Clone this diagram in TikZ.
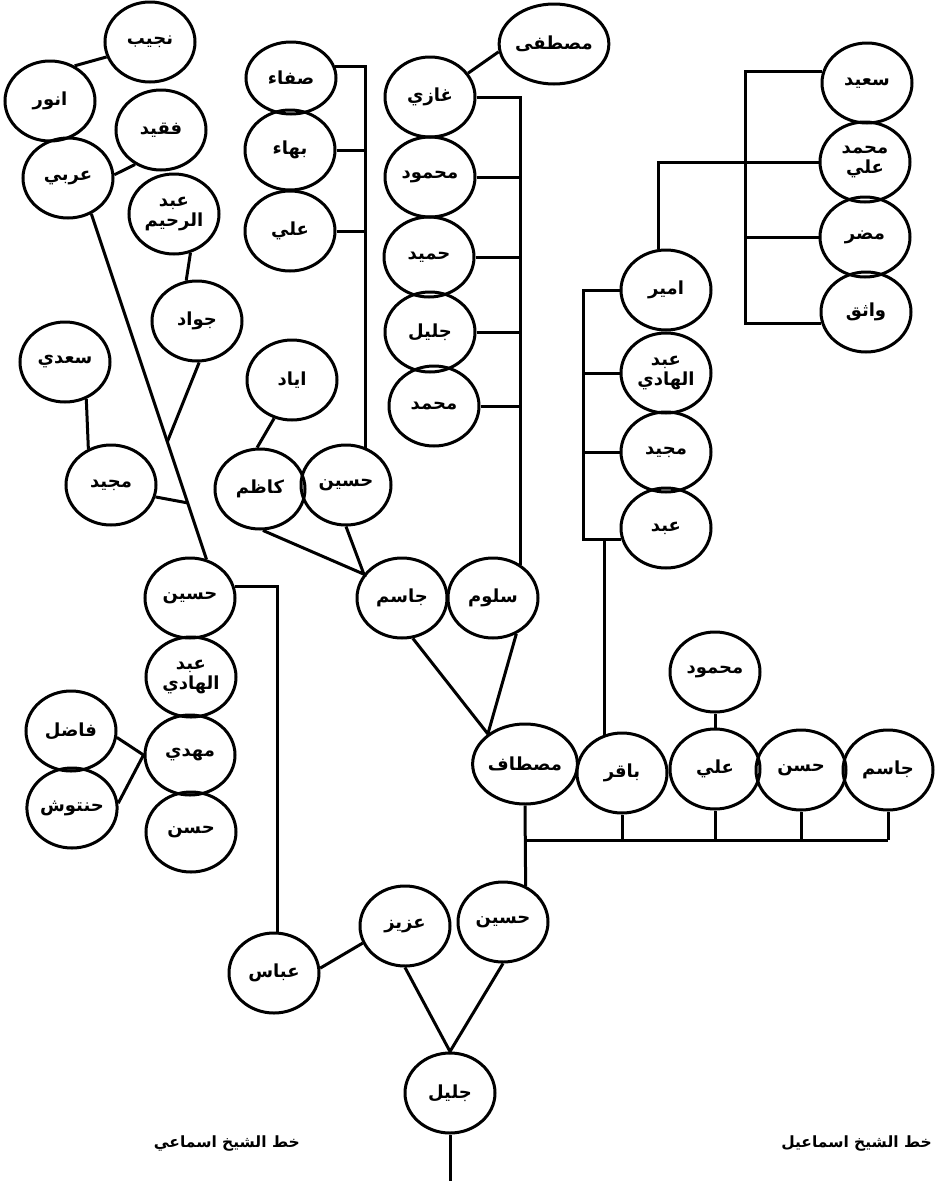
\documentclass[tikz,border=0pt]{standalone}
\usepackage{fontspec}
\usetikzlibrary{shapes.geometric,calc}
\TeXXeTstate=1
\newfontfamily\arabicfont[Script=Arabic,BoldFont={DejaVu Sans Bold}]{DejaVu Sans}
\newcommand\artxt[1]{\beginR #1\endR}
\begin{document}
\begin{tikzpicture}[x=1pt,y=-1pt,
  person/.style={ellipse, draw, line width=3pt, minimum width=90pt, minimum height=80pt,
    inner sep=0pt, align=center, font=\arabicfont\bfseries\fontsize{18}{20}\selectfont},
  link/.style={line width=3pt},
  caption/.style={font=\arabicfont\bfseries\fontsize{15.5}{18}\selectfont, inner sep=0pt}]
\useasboundingbox (0,0) rectangle (935,1181);
\begin{scope}
\clip (0,0) rectangle (935,1181);
% upper left group
\node[person] (najib) at (150,42) {\artxt{نجيب}};
\node[person] (anwar) at (50,101) {\artxt{انور}};
\node[person] (faqid) at (161,130) {\artxt{فقيد}};
\node[person] (arabi) at (68,178) {\artxt{عربي}};
\node[person] (abdr) at (174,214) {\artxt{عبد}\\\artxt{الرحيم}};
\node[person] (jawad) at (197,321) {\artxt{جواد}};
\node[person] (saadi) at (65,362) {\artxt{سعدي}};
\node[person] (majidL) at (111,485) {\artxt{مجيد}};
\node[person] (husL) at (190,598) {\artxt{حسين}};
\node[person] (abdhL) at (191,677) {\artxt{عبد}\\\artxt{الهادي}};
\node[person] (mahdi) at (190,755) {\artxt{مهدي}};
\node[person] (hasanL) at (191,832) {\artxt{حسن}};
\node[person] (fadil) at (71,731) {\artxt{فاضل}};
\node[person] (hantush) at (72,808) {\artxt{حنتوش}};
% centre column groups
\node[person, minimum height=72pt] (safa) at (291,78) {\artxt{صفاء}};
\node[person] (baha) at (290,150) {\artxt{بهاء}};
\node[person] (aliU) at (290,231) {\artxt{علي}};
\node[person] (iyad) at (292,380) {\artxt{اياد}};
\node[person] (kazim) at (260,489) {\artxt{كاظم}};
\node[person] (husU) at (346,485) {\artxt{حسين}};
\node[person] (jasimU) at (402,598) {\artxt{جاسم}};
\node[person] (sallum) at (493,598) {\artxt{سلوم}};
\node[person, minimum width=94pt] (mustafa) at (554,44) {\artxt{مصطفى}};
\node[person] (ghazi) at (430,97) {\artxt{غازي}};
\node[person] (mahmudU) at (430,177) {\artxt{محمود}};
\node[person] (hamid) at (429,257) {\artxt{حميد}};
\node[person] (jalilU) at (430,332) {\artxt{جليل}};
\node[person] (muhammadU) at (434,406) {\artxt{محمد}};
% right groups
\node[person] (said) at (867,83) {\artxt{سعيد}};
\node[person] (mali) at (865,162) {\artxt{محمد}\\\artxt{علي}};
\node[person] (mudar) at (865,237) {\artxt{مضر}};
\node[person] (wathiq) at (866,312) {\artxt{واثق}};
\node[person] (amir) at (666,290) {\artxt{امير}};
\node[person] (abdhR) at (666,373) {\artxt{عبد}\\\artxt{الهادي}};
\node[person] (majidR) at (666,452) {\artxt{مجيد}};
\node[person] (abd) at (666,528) {\artxt{عبد}};
% bottom row
\node[person, minimum width=94pt] (mustaf) at (525,764) {\artxt{مصطاف}};
\node[person] (baqir) at (622,773) {\artxt{باقر}};
\node[person] (aliR) at (715,769) {\artxt{علي}};
\node[person] (hasanR) at (801,770) {\artxt{حسن}};
\node[person] (jasimR) at (888,770) {\artxt{جاسم}};
\node[person] (mahmudR) at (715,672) {\artxt{محمود}};
\node[person] (husB) at (503,922) {\artxt{حسين}};
\node[person] (aziz) at (405,926) {\artxt{عزيز}};
\node[person] (abbas) at (274,973) {\artxt{عباس}};
\node[person] (jalil) at (450,1093) {\artxt{جليل}};
% captions
\node[caption, anchor=east] (capL) at (300,1143) {\artxt{خط الشيخ اسماعي}};
\node[caption, anchor=east] (capR) at (932,1143) {\artxt{خط الشيخ اسماعيل}};
% helper coordinates
\coordinate (bk2) at (583,0);
\coordinate (bk3) at (745,0);
\coordinate (bar) at (0,840);
\coordinate (root) at (450,1181);
\coordinate (j1) at ($(arabi.-57)!0.66!(husL.67)$);
\coordinate (j2) at ($(arabi.-57)!0.837!(husL.67)$);
% connectors: upper left
\draw[link] (anwar.55) -- (najib.199);
\draw[link] (arabi.4) -- (faqid.233);
\draw[link] (arabi.-57) -- (husL.67);
\draw[link] (abdr.-67) -- (jawad.105);
\draw[link] (jawad.-87) -- (j1);
\draw[link] (saadi.-60) -- (majidL.122);
\draw[link] (majidL.-15) -- (j2);
\draw[link] (fadil.-8) -- (mahdi.west) -- (hantush.6);
\draw[link] (husL.14) -| (abbas.85);
% centre
\draw[link] (iyad.245) -- (kazim.94);
\draw[link] (kazim.-86) -- (jasimU.148) -- (husU.south);
\draw[link] (safa.15) -| (husU.62);
\draw[link] (baha.east) -- (baha.east -| husU.62);
\draw[link] (aliU.east) -- (aliU.east -| husU.62);
\draw[link] (ghazi.32) -- (mustafa.188);
\draw[link] (ghazi.east) -| (sallum.50);
\foreach \n in {mahmudU,hamid,jalilU,muhammadU}
  \draw[link] (\n.east) -- (\n.east -| sallum.50);
\draw[link] (jasimU.-75) -- (mustaf.141) -- (sallum.-57);
% right
\draw[link] (said.165) -- (said.165 -| bk3) -- (wathiq.195 -| bk3) -- (wathiq.195);
\draw[link] (mudar.west) -- (mudar.west -| bk3);
\draw[link] (amir.100) |- (mali.west);
\draw[link] (amir.west) -- (amir.west -| bk2) -- (abd.195 -| bk2) -- (abd.195);
\draw[link] (abdhR.west) -- (abdhR.west -| bk2);
\draw[link] (majidR.west) -- (majidR.west -| bk2);
\draw[link] (baqir.115) -- (baqir.115 |- abd.195);
% bottom
\draw[link] (mahmudR) -- (aliR);
\draw[link] (mustaf.south) -- (husB.58);
\draw[link] (mustaf.south |- bar) -- (jasimR.south |- bar);
\foreach \n in {baqir,aliR,hasanR,jasimR}
  \draw[link] (\n.south) -- (\n.south |- bar);
\draw[link] (abbas.6) -- (aziz.202);
\draw[link] (aziz.south) -- (jalil.north) -- (husB.south);
\draw[link] (jalil.south) -- (root);
\end{scope}
\end{tikzpicture}
\end{document}
